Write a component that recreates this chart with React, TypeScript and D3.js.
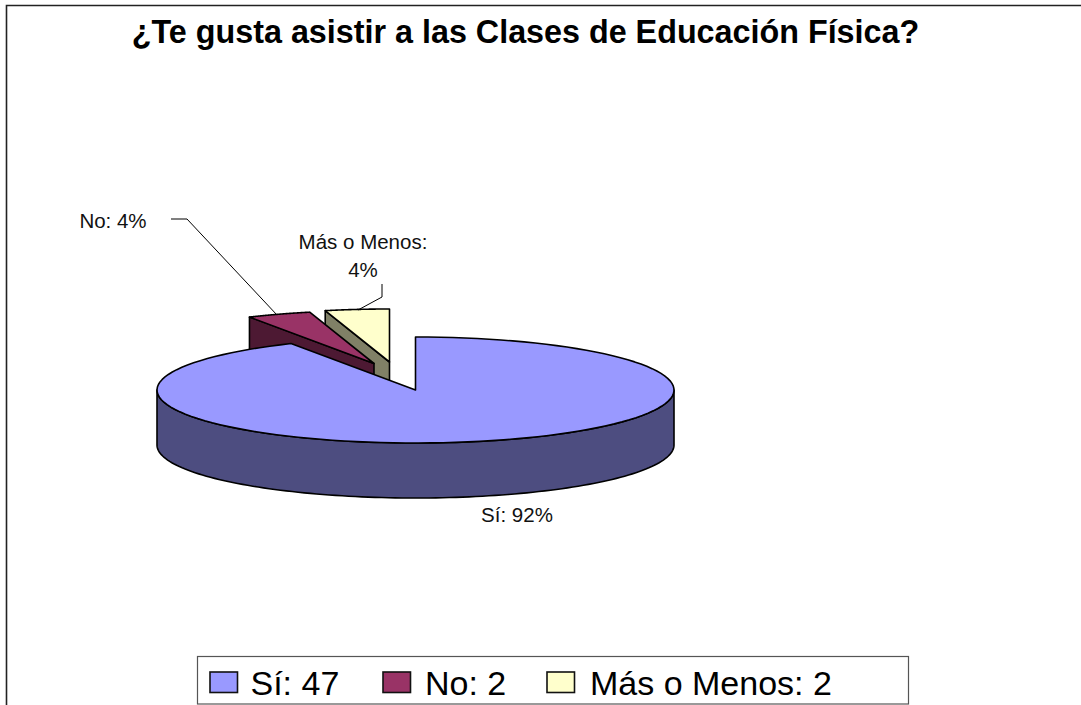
import React from "react";
import * as d3 from "d3";

const chartTitle = "¿Te gusta asistir a las Clases de Educación Física?";
const categories = ["Sí", "No", "Más o Menos"];
const counts = [47, 2, 2];
const percents = [92, 4, 4];

const W = 1081, H = 705;
const FONT = "'Liberation Sans', Arial, sans-serif";
const cx = 415.5, cy = 390, rx = 258.5, ry = 53, depth = 55;
const topColors = ["#9999FF", "#993366", "#FFFFCC"];
const sideColors = ["#4D4D80", "#4D1933", "#808066"];
const explode: [number, number][] = [[0, 0], [-41.5, -26.5], [-26, -28]];
const legendSwatchX = [210, 383, 547];
const legendTextX = [250.5, 425, 590];

const arcs = d3.pie<number>().sort(null).value((d) => d).startAngle(0).endAngle(2 * Math.PI)(percents);

const sx = d3.scaleLinear().domain([-1, 1]).range([-rx, rx]);
const sy = d3.scaleLinear().domain([-1, 1]).range([ry, -ry]);
const pt = (a: number, off: [number, number], dy = 0): [number, number] => [
  cx + off[0] + sx(Math.sin(a)),
  cy + off[1] + dy + sy(Math.cos(a)),
];
const line = d3.line<[number, number]>();
const samples = (a0: number, a1: number, n = 120) => d3.range(n + 1).map((i) => a0 + ((a1 - a0) * i) / n);

function topPath(i: number) {
  const a = arcs[i];
  const off = explode[i];
  const pts = samples(a.startAngle, a.endAngle).map((t) => pt(t, off));
  return line([[cx + off[0], cy + off[1]], ...pts]) + "Z";
}
// Front rim of the main slice (the part of the ellipse that faces the viewer)
function rimPath() {
  const a = samples(Math.PI / 2, (3 * Math.PI) / 2);
  const upper = a.map((t) => pt(t, [0, 0]));
  const lower = a.slice().reverse().map((t) => pt(t, [0, 0], depth));
  return line([...upper, ...lower]) + "Z";
}
// Radial face at the slice's start angle, extruded downwards
function facePath(i: number) {
  const off = explode[i];
  const c: [number, number] = [cx + off[0], cy + off[1]];
  const e = pt(arcs[i].startAngle, off);
  return line([c, e, [e[0], e[1] + depth], [c[0], c[1] + depth]]) + "Z";
}

const label = (i: number) => `${categories[i]}: ${percents[i]}%`;

export default function App() {
  return (
    <svg
      width={W}
      height={H}
      viewBox={`0 0 ${W} ${H}`}
      style={{ position: "absolute", left: 0, top: 0, display: "block", background: "#fff" }}
      fontFamily={FONT}
    >
      <path d={`M6.5 ${H}V5.5H${W}`} fill="none" stroke="#222" strokeWidth={1.6} />
      <text x={525.5} y={43} textAnchor="middle" fontSize={32.3} fontWeight="bold" fill="#000">
        {chartTitle}
      </text>

      {/* Más o Menos slice */}
      <path d={facePath(2)} fill={sideColors[2]} stroke="#000" strokeWidth={1.6} strokeLinejoin="round" />
      <path d={topPath(2)} fill={topColors[2]} stroke="#000" strokeWidth={1.6} strokeLinejoin="round" />
      {/* No slice */}
      <path d={facePath(1)} fill={sideColors[1]} stroke="#000" strokeWidth={1.6} strokeLinejoin="round" />
      <path d={topPath(1)} fill={topColors[1]} stroke="#000" strokeWidth={1.6} strokeLinejoin="round" />
      {/* Sí slice */}
      <path d={rimPath()} fill={sideColors[0]} stroke="#000" strokeWidth={1.6} strokeLinejoin="round" />
      <path d={topPath(0)} fill={topColors[0]} stroke="#000" strokeWidth={1.6} strokeLinejoin="round" />

      {/* Leader lines */}
      <polyline points="171,219 187,219 277,315" fill="none" stroke="#000" strokeWidth={1} />
      <polyline points="382,284 382,297 358,310" fill="none" stroke="#000" strokeWidth={1} />

      {/* Data labels */}
      <g fontSize={20.5} fill="#111">
        <text x={517} y={522} textAnchor="middle">{label(0)}</text>
        <text x={113} y={228} textAnchor="middle">{label(1)}</text>
        <text x={363} y={249} textAnchor="middle">{categories[2]}:</text>
        <text x={363} y={277} textAnchor="middle">{percents[2]}%</text>
      </g>

      {/* Legend */}
      <rect x={197.5} y={656.5} width={711} height={47.5} fill="#fff" stroke="#555" strokeWidth={1.2} />
      {categories.map((c, i) => (
        <g key={c}>
          <rect x={legendSwatchX[i]} y={672} width={27.5} height={20.5} fill={topColors[i]} stroke="#111" strokeWidth={1.6} />
          <text x={legendTextX[i]} y={695} fontSize={34} fill="#000">{`${c}: ${counts[i]}`}</text>
        </g>
      ))}
    </svg>
  );
}
